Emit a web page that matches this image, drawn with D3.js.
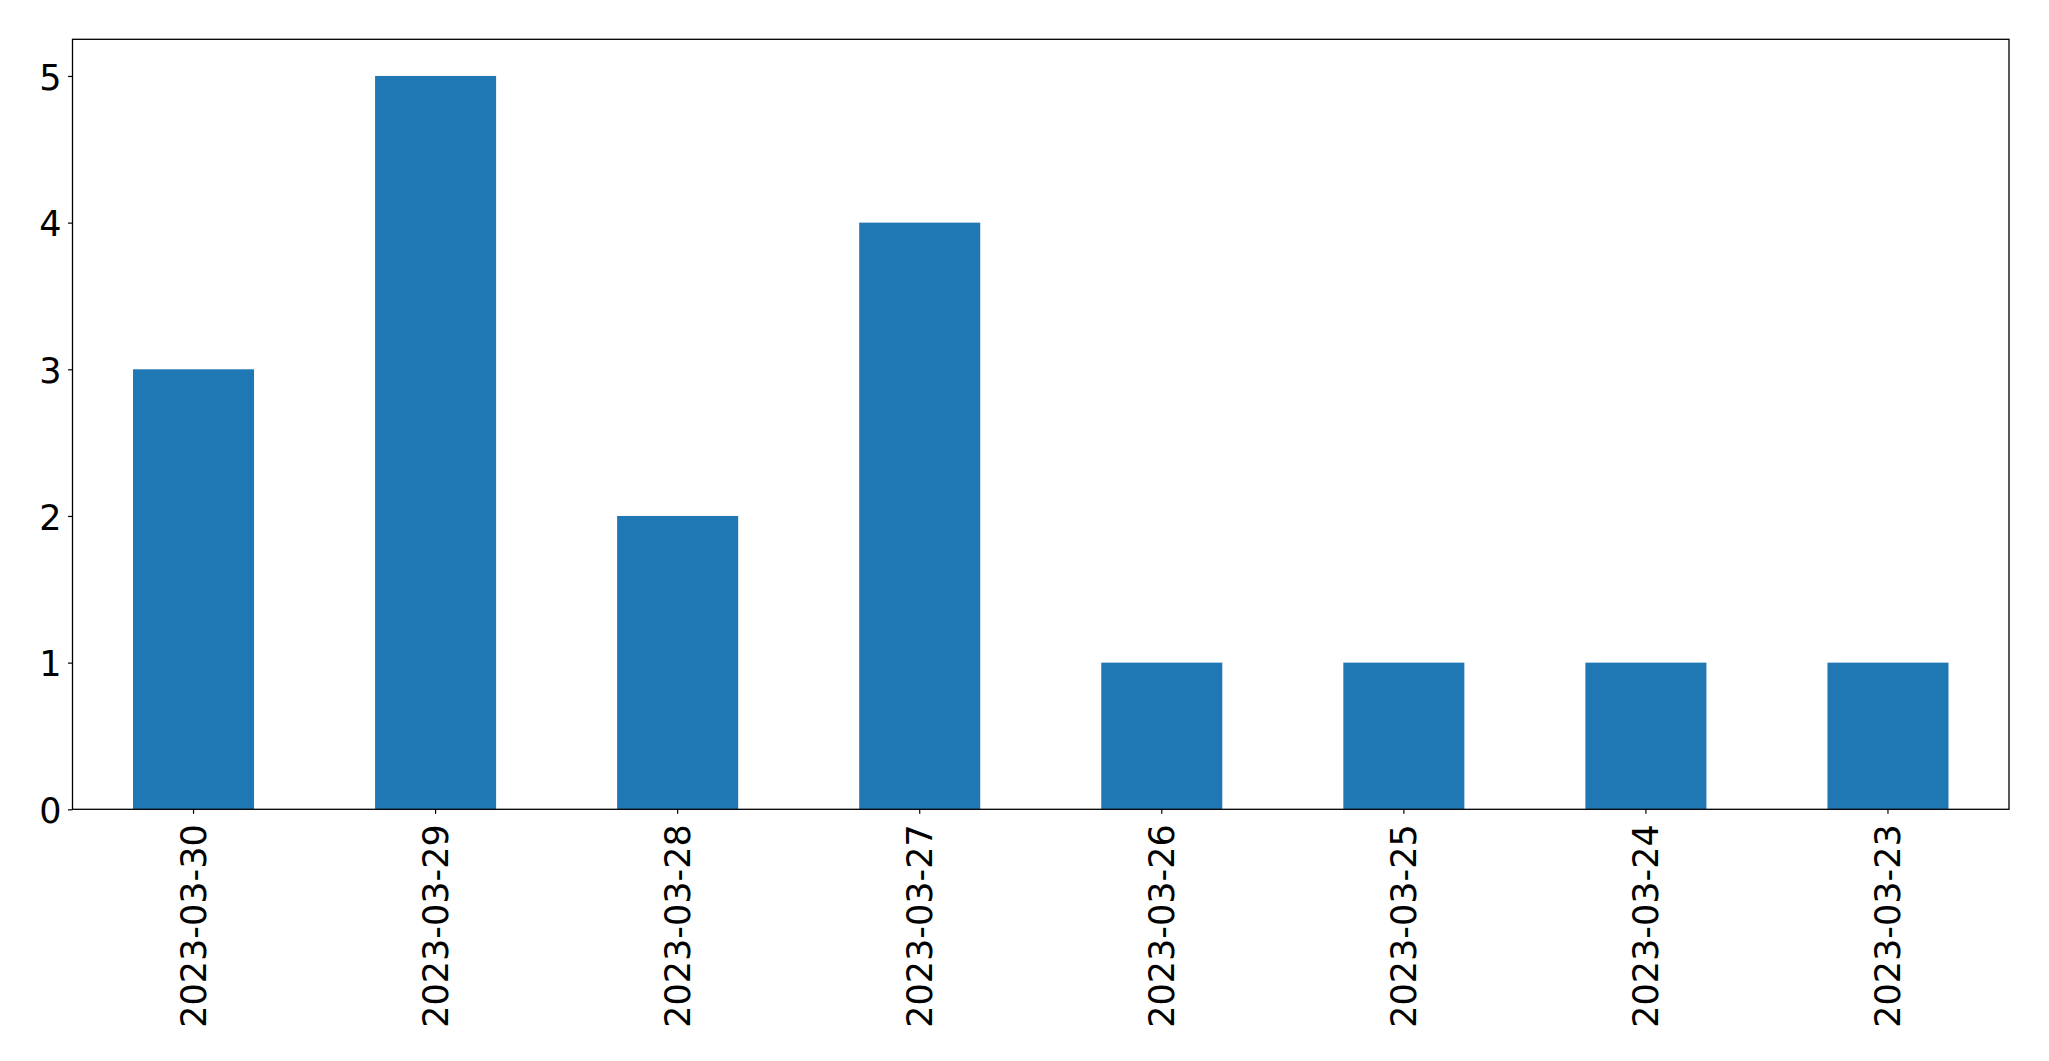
<!DOCTYPE html>
<html>
<head>
<meta charset="utf-8">
<script src="https://cdn.jsdelivr.net/npm/d3@7"></script>
<style>
  body { margin: 0; background: white; }
  svg { display: block; }
</style>
</head>
<body>
<script>
// data
const dates = ["2023-03-30", "2023-03-29", "2023-03-28", "2023-03-27",
               "2023-03-26", "2023-03-25", "2023-03-24", "2023-03-23"];
const counts = [3, 5, 2, 4, 1, 1, 1, 1];
const yTicks = [0, 1, 2, 3, 4, 5];

const width = 2049;
const height = 1061;
const margin = { top: 39.3, right: 40, bottom: 251.7, left: 72.5 };

const svg = d3.select("body")
  .append("svg")
  .attr("width", width)
  .attr("height", height);

// scales
const x = d3.scaleBand()
  .domain(dates)
  .range([margin.left, width - margin.right])
  .paddingInner(0.5)
  .paddingOuter(0.25);

const y = d3.scaleLinear()
  .domain([0, d3.max(counts) * 1.05])
  .range([height - margin.bottom, margin.top]);

// bars
svg.selectAll("rect.bar")
  .data(dates)
  .enter()
  .append("rect")
  .attr("class", "bar")
  .attr("x", d => x(d))
  .attr("width", x.bandwidth())
  .attr("y", (d, i) => y(counts[i]))
  .attr("height", (d, i) => y(0) - y(counts[i]))
  .attr("fill", "#1f77b4");

// axes
const font = "DejaVu Sans, sans-serif";
const fontSize = 35;

const xAxis = svg.append("g")
  .attr("transform", `translate(0, ${height - margin.bottom})`)
  .call(d3.axisBottom(x).tickSize(4.5).tickSizeOuter(0).tickPadding(0));
xAxis.select(".domain").remove();
xAxis.selectAll(".tick line").attr("stroke", "#000").attr("stroke-width", 1.2);
xAxis.selectAll(".tick text")
  .attr("font-family", font)
  .attr("font-size", fontSize)
  .attr("fill", "#000")
  .attr("text-anchor", "end")
  .attr("transform", "translate(0, 15) rotate(-90)")
  .attr("x", 0)
  .attr("y", 0)
  .attr("dy", "0.35em");

const yAxis = svg.append("g")
  .attr("transform", `translate(${margin.left}, 0)`)
  .call(d3.axisLeft(y).tickValues(yTicks).tickFormat(d3.format("d"))
    .tickSize(4.5).tickSizeOuter(0).tickPadding(6.5));
yAxis.select(".domain").remove();
yAxis.selectAll(".tick line").attr("stroke", "#000").attr("stroke-width", 1.2);
yAxis.selectAll(".tick text")
  .attr("font-family", font)
  .attr("font-size", fontSize)
  .attr("fill", "#000")
  .attr("dy", "0.38em");

// frame
svg.append("rect")
  .attr("x", margin.left)
  .attr("y", margin.top)
  .attr("width", width - margin.right - margin.left)
  .attr("height", height - margin.bottom - margin.top)
  .attr("fill", "none")
  .attr("stroke", "#000")
  .attr("stroke-width", 1.3);
</script>
</body>
</html>
